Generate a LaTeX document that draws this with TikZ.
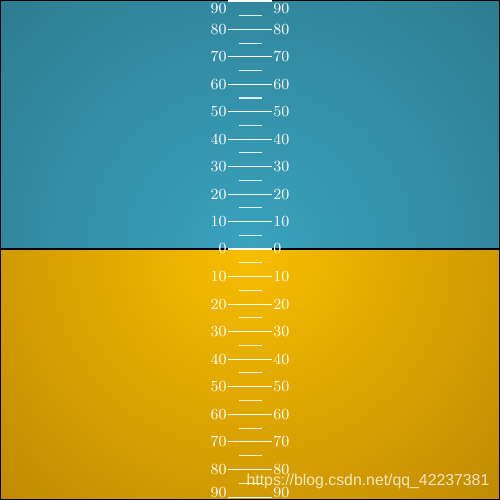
\documentclass[tikz,border=0pt]{standalone}
\usepackage{fontspec}
\newfontfamily\marksans{Liberation Sans}
\usetikzlibrary{positioning}

\definecolor{skyin}{HTML}{3AA2BD}
\definecolor{skyout}{HTML}{256575}
\definecolor{earthin}{HTML}{F8BE00}
\definecolor{earthout}{HTML}{9C6A04}

\tikzset{
  pitchlbl/.style={text=white, inner sep=0.6pt, font=\fontsize{8.8}{10}\selectfont},
  rung/.style={white, line width=0.6pt},
  halfrung/.style={white, line width=0.6pt, opacity=0.85}
}

\begin{document}
\begin{tikzpicture}
  \useasboundingbox (0,0) rectangle (10,10);
  % sky and ground
  \begin{scope}
    \clip (0,5.02) rectangle (10,10);
    \shade[inner color=skyin, outer color=skyout] (5,5.02) circle (11.5);
  \end{scope}
  \begin{scope}
    \clip (0,0) rectangle (10,5.02);
    \shade[inner color=earthin, outer color=earthout] (5,5.02) circle (11.5);
  \end{scope}
  \draw[black, line width=0.6pt] (0,5.02) -- (10,5.02);
  \draw[black, line width=0.6pt] (0,0) rectangle (10,10);

  % long rungs, every 10 degrees
  \node[pitchlbl, anchor=east] (l0) at (4.56,5.02) {0};
  \node[pitchlbl, anchor=west] (r0) at (5.44,5.02) {0};
  \draw[rung] (l0.east) -- (r0.west);
  \foreach \p in {10,20,...,80} {
    \node[pitchlbl, anchor=east] (lu\p) at (4.56,5.02+\p*0.0549) {\p};
    \node[pitchlbl, anchor=west] (ru\p) at (5.44,5.02+\p*0.0549) {\p};
    \draw[rung] (lu\p.east) -- (ru\p.west);
    \node[pitchlbl, anchor=east] (ld\p) at (4.56,5.02-\p*0.0551) {\p};
    \node[pitchlbl, anchor=west] (rd\p) at (5.44,5.02-\p*0.0551) {\p};
    \draw[rung] (ld\p.east) -- (rd\p.west);
  }
  % the 90 marks sit on the edges
  \node[pitchlbl, anchor=east] (lu90) at (4.56,9.83) {90};
  \node[pitchlbl, anchor=west] (ru90) at (5.44,9.83) {90};
  \node[pitchlbl, anchor=east] (ld90) at (4.56,0.14) {90};
  \node[pitchlbl, anchor=west] (rd90) at (5.44,0.14) {90};
  \coordinate (tl) at (4.56,9.98);
  \coordinate (tr) at (5.44,9.98);
  \coordinate (bl) at (4.56,0.05);
  \coordinate (br) at (5.44,0.05);
  \draw[rung, line width=1pt] (tl) -- (tr);
  \draw[rung, line width=1pt] (bl) -- (br);

  % short rungs, every 5 degrees
  \foreach \p in {5,15,...,85} {
    \draw[halfrung] (4.78,5.02+\p*0.0549) -- (5.23,5.02+\p*0.0549);
    \draw[halfrung] (4.78,5.02-\p*0.0551) -- (5.23,5.02-\p*0.0551);
  }

  \node[text=white, opacity=0.75, font=\marksans\fontsize{9}{10}\selectfont] (mark) at (7.36,0.38) {https://blog.csdn.net/qq\_42237381};
\end{tikzpicture}
\end{document}
